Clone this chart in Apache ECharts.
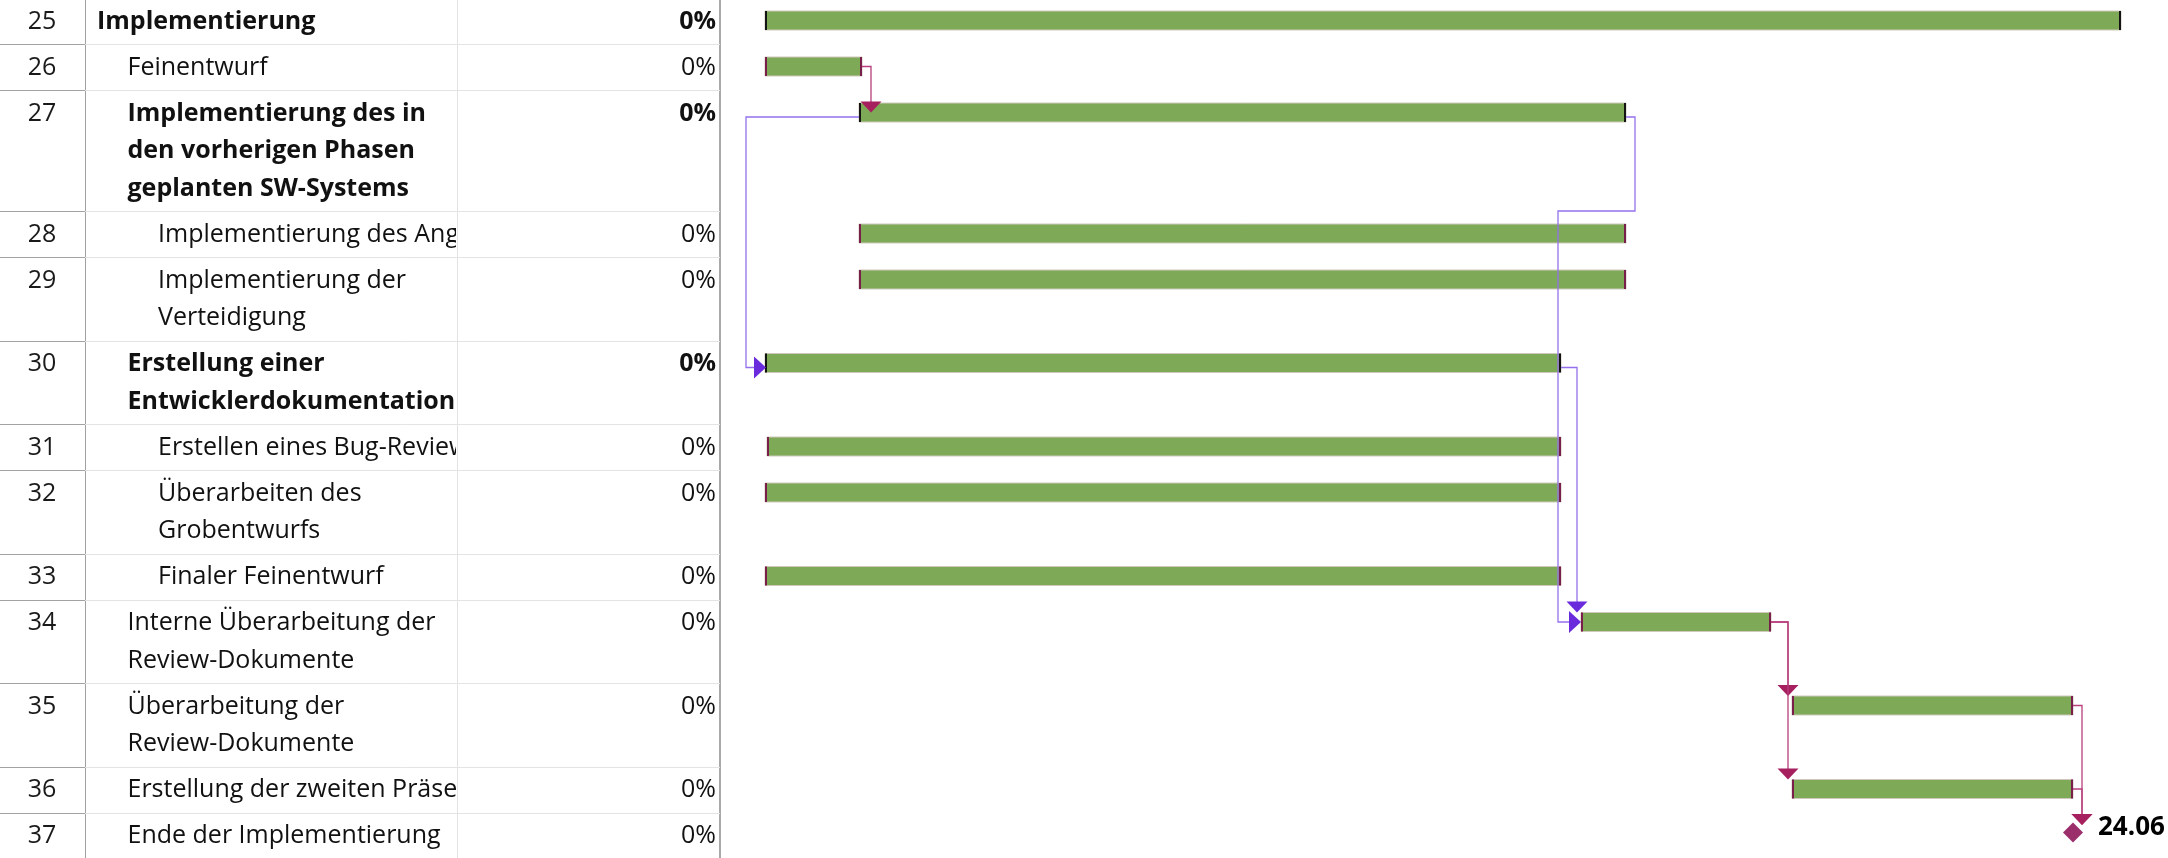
<!DOCTYPE html>
<html>
<head>
<meta charset="utf-8">
<script src="https://cdn.jsdelivr.net/npm/echarts@6/dist/echarts.min.js"></script>
<style>
  html, body { margin: 0; padding: 0; background: #ffffff; }
  #chart { width: 2168px; height: 858px; }
</style>
</head>
<body>
<div id="chart"></div>
<script>
// ---- Vorgänge (Projektplan, Phase Implementierung) ----
const taskIds = [25, 26, 27, 28, 29, 30, 31, 32, 33, 34, 35, 36, 37];
const taskNames = [
  'Implementierung',
  'Feinentwurf',
  'Implementierung des in\nden vorherigen Phasen\ngeplanten SW-Systems',
  'Implementierung des Angriffs',
  'Implementierung der\nVerteidigung',
  'Erstellung einer\nEntwicklerdokumentation',
  'Erstellen eines Bug-Reviews',
  'Überarbeiten des\nGrobentwurfs',
  'Finaler Feinentwurf',
  'Interne Überarbeitung der\nReview-Dokumente',
  'Überarbeitung der\nReview-Dokumente',
  'Erstellung der zweiten Präsentation',
  'Ende der Implementierung'
];
const outlineLevels = [1, 2, 2, 3, 3, 2, 3, 3, 3, 2, 2, 2, 2];
const taskTypes = ['summary', 'task', 'summary', 'task', 'task', 'summary', 'task',
                   'task', 'task', 'task', 'task', 'task', 'milestone'];
const percentComplete = [0, 0, 0, 0, 0, 0, 0, 0, 0, 0, 0, 0, 0];
const startDates = [
  '2024-01-13 05:00', '2024-01-13 05:00', '2024-01-24 23:00', '2024-01-24 23:00',
  '2024-01-24 23:00', '2024-01-13 05:00', '2024-01-13 11:00', '2024-01-13 05:00',
  '2024-01-13 05:00', '2024-04-24 05:00', '2024-05-20 14:00', '2024-05-20 14:00',
  '2024-06-24 17:00'
];
const finishDates = [
  '2024-06-30 17:00', '2024-01-25 08:00', '2024-04-29 20:00', '2024-04-29 20:00',
  '2024-04-29 20:00', '2024-04-21 17:00', '2024-04-21 17:00', '2024-04-21 17:00',
  '2024-04-21 17:00', '2024-05-17 23:00', '2024-06-24 17:00', '2024-06-24 17:00',
  '2024-06-24 17:00'
];
// Anordnungsbeziehungen: Vorgänger -> Nachfolger
const linkFrom = [26, 27, 27, 30, 34, 34, 35, 36];
const linkTo = [27, 30, 34, 34, 35, 36, 37, 37];
const linkTypes = ['FS', 'SS', 'FS', 'FS', 'FS', 'FS', 'FS', 'FS'];
const linkCritical = [true, false, false, false, true, true, true, true];
// sichtbarer Zeitraum der Zeitachse
const timelineStart = '2024-01-07 14:00';
const timelineEnd = '2024-07-06 14:00';

// ---- Layout ----
const FONT = '"Open Sans", "Noto Sans", sans-serif';
const FONT_SIZE = 25;
const LINE_H = 37.5;          // Zeilenabstand im Tabellenteil
const ROW_BASE = 46;          // Höhe einer einzeiligen Tabellenzeile
const FIRST_TOP = -2;         // erste Zeile beginnt knapp oberhalb des Rands
const COL_ID_R = 85, COL_NAME_R = 457, COL_PCT_R = 720;
const NAME_X0 = 97, INDENT = 30.5;
const BAR_OFFSET = 22.5, BAR_H = 19;
const MS_OFFSET = 20, MS_HALF = 10;

const ts = s => new Date(s.replace(' ', 'T')).getTime();
const tMin = ts(timelineStart), tMax = ts(timelineEnd);
const lineCount = taskNames.map(n => n.split('\n').length);
const rowH = lineCount.map(c => ROW_BASE + LINE_H * (c - 1));
const rowTop = [];
rowH.reduce((acc, h) => { rowTop.push(acc); return acc + h; }, FIRST_TOP);
const idx = id => taskIds.indexOf(id);
const pad = n => String(n).padStart(2, '0');
const fmtDayMonth = t => { const d = new Date(t); return pad(d.getDate()) + '.' + pad(d.getMonth() + 1); };

function geom(api, i) {
  const top = api.coord([tMin, rowTop[i]])[1];
  const x1 = api.coord([ts(startDates[i]), 0])[0];
  const x2 = api.coord([ts(finishDates[i]), 0])[0];
  const type = taskTypes[i];
  const cy = top + (type === 'milestone' ? MS_OFFSET : BAR_OFFSET);
  const barTop = type === 'milestone' ? cy - MS_HALF : cy - BAR_H / 2;
  return { top, bottom: top + rowH[i], x1, x2, cy, barTop,
           summary: type === 'summary', milestone: type === 'milestone' };
}

function renderTask(params, api) {
  const i = params.dataIndex;
  const g = geom(api, i);
  const bold = taskTypes[i] === 'summary';
  const textY = g.top + BAR_OFFSET - LINE_H / 2 + 1;
  const children = [];
  // Zeilentrennlinien
  const yb = Math.round(g.bottom) + 0.5;
  children.push({ type: 'line', shape: { x1: 0, y1: yb, x2: COL_ID_R, y2: yb },
                  style: { stroke: '#a3a3a3', lineWidth: 1 } });
  children.push({ type: 'line', shape: { x1: COL_ID_R, y1: yb, x2: COL_PCT_R, y2: yb },
                  style: { stroke: '#e4e4e4', lineWidth: 1 } });
  // Nr.
  children.push({ type: 'text', x: 42, y: textY, style: {
    text: String(taskIds[i]), fontFamily: FONT, fontSize: FONT_SIZE, fill: '#1a1a1a',
    align: 'center', verticalAlign: 'top', lineHeight: LINE_H } });
  // Vorgangsname, an der Spaltengrenze abgeschnitten
  const nx = NAME_X0 + INDENT * (outlineLevels[i] - 1);
  children.push({
    type: 'group',
    clipPath: { type: 'rect', shape: { x: COL_ID_R + 1, y: g.top, width: COL_NAME_R - COL_ID_R - 2, height: rowH[i] } },
    children: [{ type: 'text', x: nx, y: textY, style: {
      text: taskNames[i], fontFamily: FONT, fontSize: FONT_SIZE,
      fontWeight: bold ? 'bold' : 'normal', fill: '#111',
      align: 'left', verticalAlign: 'top', lineHeight: LINE_H } }]
  });
  // % abgeschlossen
  children.push({ type: 'text', x: 716, y: textY, style: {
    text: percentComplete[i] + '%', fontFamily: FONT, fontSize: FONT_SIZE,
    fontWeight: bold ? 'bold' : 'normal', fill: '#111',
    align: 'right', verticalAlign: 'top', lineHeight: LINE_H } });

  if (g.milestone) {
    children.push({ type: 'polygon', shape: { points: [
      [g.x2, g.cy - MS_HALF], [g.x2 + MS_HALF, g.cy], [g.x2, g.cy + MS_HALF], [g.x2 - MS_HALF, g.cy]] },
      style: { fill: '#9a2f6c' } });
    children.push({ type: 'text', x: g.x2 + 25, y: g.cy - 5, style: {
      text: fmtDayMonth(ts(finishDates[i])), fontFamily: FONT, fontSize: 26, fontWeight: 'bold',
      fill: '#000', align: 'left', verticalAlign: 'middle' } });
  } else {
    const by = g.cy - BAR_H / 2;
    children.push({ type: 'rect', shape: { x: g.x1, y: by, width: g.x2 - g.x1, height: BAR_H },
                    style: { fill: '#7ea956', stroke: '#cfc9bd', lineWidth: 1 } });
    const capColor = g.summary ? '#141414' : '#7a1f4c';
    children.push({ type: 'rect', shape: { x: g.x1, y: by, width: 2, height: BAR_H },
                    style: { fill: capColor } });
    children.push({ type: 'rect', shape: { x: g.x2 - 2, y: by, width: 2, height: BAR_H },
                    style: { fill: capColor } });
  }
  return { type: 'group', children };
}

function renderLink(params, api) {
  const k = params.dataIndex;
  const s = geom(api, idx(linkFrom[k]));
  const g = geom(api, idx(linkTo[k]));
  const crit = linkCritical[k];
  const lineColor = crit ? '#b83f7c' : '#9470ec';
  const arrowColor = crit ? '#a61f5e' : '#6a2bdc';
  let pts, arrow;
  const rightArrow = (tx, ty) => [[tx - 12, ty - 11], [tx - 12, ty + 11], [tx, ty]];
  const downArrow = (vx, ty) => [[vx - 10.5, ty - 11], [vx + 10.5, ty - 11], [vx, ty]];
  if (linkTypes[k] === 'SS') {
    const sy = s.cy + (s.summary ? 4.5 : 0);
    const ty = g.cy + (g.summary ? 4.5 : 0);
    const lx = Math.min(s.x1, g.x1) - 19;
    pts = [[s.x1, sy], [lx, sy], [lx, ty], [g.x1 - 10, ty]];
    arrow = rightArrow(g.x1 + 1, ty);
  } else {
    const sx = s.x2;
    const sy = s.cy + (s.summary ? 4.5 : 0);
    if (g.x1 >= sx - 8) {
      const vx = Math.max(sx + 9, g.x1 - 4);
      const tipY = g.summary ? g.cy : (g.milestone ? g.barTop + 2.5 : g.barTop);
      pts = [[sx, sy], [vx, sy], [vx, tipY - 10]];
      arrow = downArrow(vx, tipY);
    } else {
      const ty = g.cy + (g.summary ? 4.5 : 0);
      const ox = sx + 9, lx = g.x1 - 23, byy = s.bottom;
      pts = [[sx, sy], [ox, sy], [ox, byy], [lx, byy], [lx, ty], [g.x1 - 10, ty]];
      arrow = rightArrow(g.x1, ty);
    }
  }
  return { type: 'group', children: [
    { type: 'polyline', shape: { points: pts }, style: { stroke: lineColor, lineWidth: 1.3, fill: null } },
    { type: 'polygon', shape: { points: arrow }, style: { fill: arrowColor } }
  ] };
}

const chart = echarts.init(document.getElementById('chart'), null, { renderer: 'canvas' });
chart.setOption({
  backgroundColor: '#ffffff',
  animation: false,
  grid: { left: COL_PCT_R, right: 0, top: 0, bottom: 0 },
  xAxis: { type: 'time', min: tMin, max: tMax, show: false },
  yAxis: { type: 'value', min: 0, max: 858, inverse: true, show: false },
  graphic: [
    { type: 'line', shape: { x1: COL_ID_R + 0.5, y1: 0, x2: COL_ID_R + 0.5, y2: 858 },
      style: { stroke: '#a0a0a0', lineWidth: 1 }, z: 1 },
    { type: 'line', shape: { x1: COL_NAME_R + 0.5, y1: 0, x2: COL_NAME_R + 0.5, y2: 858 },
      style: { stroke: '#e2e2e2', lineWidth: 1 }, z: 1 },
    { type: 'line', shape: { x1: COL_PCT_R, y1: 0, x2: COL_PCT_R, y2: 858 },
      style: { stroke: '#a9a9a9', lineWidth: 2 }, z: 1 }
  ],
  series: [
    {
      type: 'custom', name: 'Vorgänge', clip: false, z: 2,
      renderItem: renderTask,
      encode: { x: [0, 1], y: 2 },
      data: taskIds.map((id, i) => [ts(startDates[i]), ts(finishDates[i]), rowTop[i]])
    },
    {
      type: 'custom', name: 'Anordnungsbeziehungen', clip: false, z: 3,
      renderItem: renderLink,
      encode: { x: 0, y: 1 },
      data: linkFrom.map((f, k) => [tMin, 0])
    }
  ]
});
</script>
</body>
</html>
